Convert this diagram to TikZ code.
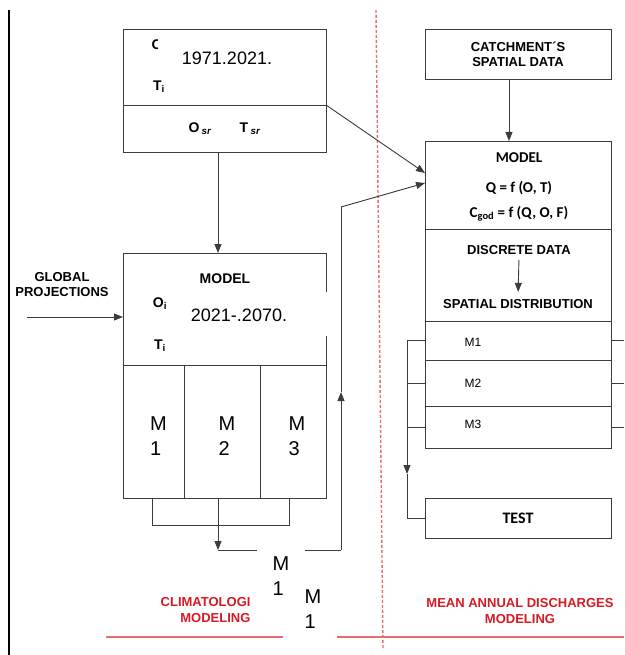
\documentclass[tikz,border=0pt]{standalone}
\usepackage{fontspec}
\setmainfont{Liberation Sans}
\newfontfamily\calfont{Carlito}
\usetikzlibrary{positioning,arrows.meta}

\definecolor{linegray}{RGB}{60,60,60}
\definecolor{redtxt}{RGB}{215,25,35}
\definecolor{redline}{RGB}{232,110,110}

\tikzset{
  part/.style={draw=linegray, line width=0.9pt, inner sep=0pt, outer sep=0pt},
  hd/.style={font=\bfseries\fontsize{13}{15}\selectfont, align=center},
  var/.style={font=\bfseries\fontsize{14}{16}\selectfont, inner sep=0pt},
  cal/.style={font=\calfont\bfseries\fontsize{15}{17}\selectfont},
  yrs/.style={font=\fontsize{18}{20}\selectfont},
  big/.style={font=\fontsize{20}{25}\selectfont, align=left},
  rowtxt/.style={font=\fontsize{12}{14}\selectfont},
  conn/.style={draw=linegray, line width=0.9pt},
  arr/.style={conn, -{Triangle[length=9pt,width=7pt]}},
  note/.style={font=\bfseries\fontsize{13}{16}\selectfont, text=redtxt},
}

\begin{document}
\begin{tikzpicture}[x=1pt, y=-1pt]
  \useasboundingbox (0,0) rectangle (624,655);

  \draw[black, line width=1.2pt] (9,10) -- (9,655);
  \draw[redline, line width=1.4pt, dash pattern=on 3pt off 2pt] (376,10) -- (383,650);
  \draw[redline, line width=1.2pt] (106,637) -- (283,637);
  \draw[redline, line width=1.2pt] (332,637) -- (624,637);

  \node[part, minimum width=203pt, minimum height=76pt] (obsTop) at (224.5,67) {};
  \node[part, minimum width=203pt, minimum height=47pt, below=0pt of obsTop] (obsBot) {};
  \node[var] (oTop) at (157,45) {O};
  \fill[white] (158,38) rectangle (300,76);
  \node[yrs] (past) at (227,58) {1971.2021.};
  \node[var] (tTop) at (159,87) {T\textsubscript{i}};
  \node[var] (oSr) at (200,129) {O\,\textsubscript{\itshape sr}};
  \node[var] (tSr) at (250,129) {T\,\textsubscript{\itshape sr}};

  \node[part, minimum width=203pt, minimum height=112pt] (modTop) at (224.5,309) {};
  \node[hd, font=\bfseries\fontsize{14}{16}\selectfont] (modLbl) at (225,279) {MODEL};
  \node[var] (oFut) at (160,304) {O\textsubscript{i}};
  \node[var] (tFut) at (160,346) {T\textsubscript{i}};
  \fill[white] (171,292) rectangle (331,336);
  \node[yrs] (fut) at (239,315) {2021-.2070.};

  \node[part, minimum width=61pt, minimum height=133pt, anchor=north west] (m1) at (modTop.south west) {};
  \node[part, minimum width=76pt, minimum height=133pt, anchor=north west] (m2) at (m1.north east) {};
  \node[part, minimum width=66pt, minimum height=133pt, anchor=north west] (m3) at (m2.north east) {};
  \node[big] (m1Lbl) at ([xshift=5pt, yshift=-5pt]m1.center) {M\\1};
  \node[big] (m2Lbl) at ([xshift=5pt, yshift=-5pt]m2.center) {M\\2};
  \node[big] (m3Lbl) at ([xshift=4pt, yshift=-5pt]m3.center) {M\\3};

  \node[hd] (glob) at (62,285) {GLOBAL\\PROJECTIONS};
  \coordinate (gIn) at (27,317);
  \draw[arr] (gIn) -- (modTop.west |- gIn);
  \draw[arr] ([xshift=-6.5pt]obsBot.south) -- ([xshift=-6.5pt]modTop.north);

  \node[part, hd, minimum width=186pt, minimum height=50pt] (catch) at (518,54.5) {CATCHMENT´S\\SPATIAL DATA};
  \node[part, minimum width=186pt, minimum height=88pt] (rmodTop) at (518,185) {};
  \node[part, minimum width=186pt, minimum height=92pt, below=0pt of rmodTop] (disc) {};
  \node[part, minimum width=186pt, minimum height=39pt, below=0pt of disc] (r1) {};
  \node[part, minimum width=186pt, minimum height=46pt, below=0pt of r1] (r2) {};
  \node[part, minimum width=186pt, minimum height=42pt, below=0pt of r2] (r3) {};
  \node[part, cal, font=\calfont\bfseries\fontsize{16}{18}\selectfont, minimum width=186pt, minimum height=40pt, below=50pt of r3] (test) {TEST};

  \node[cal] (rmodLbl) at (519,158) {MODEL};
  \node[cal] (qEq) at (519,188) {Q = f (O, T)};
  \node[cal] (cEq) at (519,214) {C\textsubscript{god} = f (Q, O, F)};
  \node[hd] (dd) at (519,250) {DISCRETE DATA};
  \node[hd] (sd) at (518,304) {SPATIAL DISTRIBUTION};
  \draw[arr, shorten <=2pt, shorten >=4pt] (dd.south) -- (sd.north);
  \node[rowtxt] (lM1) at (473,342) {M1};
  \node[rowtxt] (lM2) at (473,383) {M2};
  \node[rowtxt] (lM3) at (473,424) {M3};

  \draw[arr] ([xshift=-9pt]catch.south) -- ([xshift=-9pt]rmodTop.north);
  \draw[arr] (obsTop.south east) -- ([yshift=12pt]rmodTop.west);

  \coordinate (bL) at (152,525);
  \coordinate (bM) at (218,525);
  \coordinate (bR) at (289,525);
  \coordinate (turn) at (218,550);
  \coordinate (up) at (341,550);
  \coordinate (upMid) at (341,392);
  \coordinate (upTop) at (341,207);
  \draw[conn] (m1.south -| bL) -- (bL) -- (bR) -- (m3.south -| bR);
  \draw[conn] (m2.south -| bM) -- (bM);
  \draw[arr] (bM) -- (turn);
  \draw[conn] (turn) -- (up);
  \draw[arr] (up) -- (upMid);
  \draw[conn] (upMid) -- (upTop);
  \draw[arr] (upTop) -- ([yshift=2pt]rmodTop.west);

  \coordinate (lTop) at (407,340);
  \coordinate (lArr) at (407,474);
  \coordinate (edge) at (624,0);
  \draw[arr] (r1.west) -| (lArr);
  \draw[conn] (lArr) |- (test.west);
  \draw[conn] (r2.west) -- (r2.west -| lTop);
  \draw[conn] (r3.west) -- (r3.west -| lTop);
  \draw[conn] (r1.east) -- (r1.east -| edge);
  \draw[conn] (r2.east) -- (r2.east -| edge);
  \draw[conn] (r3.east) -- (r3.east -| edge);

  \node[note, align=right, anchor=east] (climNote) at (254,610) {CLIMATOLOGI\\MODELING};
  \node[note, align=center] (disNote) at (520,611) {MEAN ANNUAL DISCHARGES\\MODELING};

  \node[big, fill=white, inner sep=0pt, minimum width=48pt, minimum height=58pt] (outA) at (281,576) {M\\1};
  \node[big, fill=white, inner sep=0pt, minimum width=48pt, minimum height=58pt] (outB) at (313,609) {M\\1};
\end{tikzpicture}
\end{document}
